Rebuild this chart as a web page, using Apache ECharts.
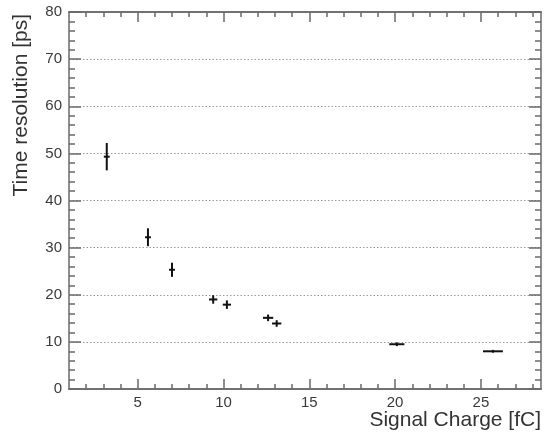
<!DOCTYPE html>
<html><head><meta charset="utf-8">
<script src="https://cdn.jsdelivr.net/npm/echarts@6/dist/echarts.min.js"></script>
<style>html,body{margin:0;padding:0;background:#fff}#c{width:544px;height:434px}</style>
</head><body><div id="c"></div>
<script>
const signalCharge = [3.2, 5.6, 7.0, 9.4, 10.2, 12.6, 13.1, 20.1, 25.7];
const chargeErr    = [0.17, 0.17, 0.17, 0.24, 0.24, 0.3, 0.27, 0.44, 0.58];
const timeRes      = [49.3, 32.2, 25.3, 19.0, 17.9, 15.1, 13.9, 9.5, 8.0];
const timeErr      = [2.9, 1.9, 1.5, 0.9, 0.9, 0.7, 0.7, 0.4, 0.3];
const xMajorTicks  = [5, 10, 15, 20, 25];
const xMinorTicks  = [2,3,4,6,7,8,9,11,12,13,14,16,17,18,19,21,22,23,24,26,27,28];
const xTitle = 'Signal Charge [fC]';
const yTitle = 'Time resolution [ps]';

const AX = '#6a6a6a', LBL = '#3a3a3a', FONT = 'Liberation Sans, Arial, sans-serif';
const data = signalCharge.map((x, i) => [x, timeRes[i], chargeErr[i], timeErr[i]]);

function xAx(pos, ticks, len, labels) {
  return {
    type: 'value', position: pos, min: 1, max: 28.5, gridIndex: 0,
    axisLine: {show: true, onZero: false, lineStyle: {color: AX, width: 1.5}},
    axisTick: {show: true, inside: true, length: len, customValues: ticks, lineStyle: {color: AX, width: 1.5}},
    axisLabel: labels ? {show: true, customValues: xMajorTicks, color: LBL, fontSize: 15, fontFamily: FONT, margin: 6} : {show: false},
    splitLine: {show: false}
  };
}
function yAx(pos, labels, grid) {
  return {
    type: 'value', position: pos, min: 0, max: 80, interval: 10,
    axisLine: {show: true, onZero: false, lineStyle: {color: AX, width: 1.5}},
    axisTick: {show: true, inside: true, length: 12, lineStyle: {color: AX, width: 1.5}},
    minorTick: {show: true, splitNumber: 5, length: 6, lineStyle: {color: AX, width: 1.5}},
    axisLabel: labels ? {show: true, color: LBL, fontSize: 15, fontFamily: FONT, margin: 7} : {show: false},
    splitLine: grid ? {show: true, showMinLine: false, showMaxLine: false, lineStyle: {color: '#9a9a9a', type: [1.5, 2], width: 1}} : {show: false}
  };
}

const chart = echarts.init(document.getElementById('c'), null, {renderer: 'canvas'});
chart.setOption({
  animation: false,
  backgroundColor: '#fff',
  grid: {left: 69, top: 12, right: 3, bottom: 45},
  xAxis: [xAx('bottom', xMajorTicks, 10, true), xAx('bottom', xMinorTicks, 5, false),
          xAx('top', xMajorTicks, 10, false), xAx('top', xMinorTicks, 5, false)],
  yAxis: [yAx('left', true, true), yAx('right', false, false)],
  graphic: [
    {type: 'text', x: 541, y: 410, style: {text: xTitle, font: '21px ' + FONT, fill: '#333', align: 'right', verticalAlign: 'top'}},
    {type: 'text', x: 11, y: 14, rotation: Math.PI / 2, style: {text: yTitle, font: '21px ' + FONT, fill: '#333', align: 'right', verticalAlign: 'top'}}
  ],
  series: [{
    type: 'custom', xAxisIndex: 0, yAxisIndex: 0, data: data,
    renderItem: function (params, api) {
      const x = api.value(0), y = api.value(1), xe = api.value(2), ye = api.value(3);
      const l = api.coord([x - xe, y]), r = api.coord([x + xe, y]);
      const t = api.coord([x, y + ye]), b = api.coord([x, y - ye]);
      const st = {stroke: '#111', lineWidth: 2};
      return {type: 'group', children: [
        {type: 'line', shape: {x1: l[0], y1: l[1], x2: r[0], y2: r[1]}, style: st},
        {type: 'line', shape: {x1: t[0], y1: t[1], x2: b[0], y2: b[1]}, style: st}
      ]};
    }
  }]
});
</script></body></html>
